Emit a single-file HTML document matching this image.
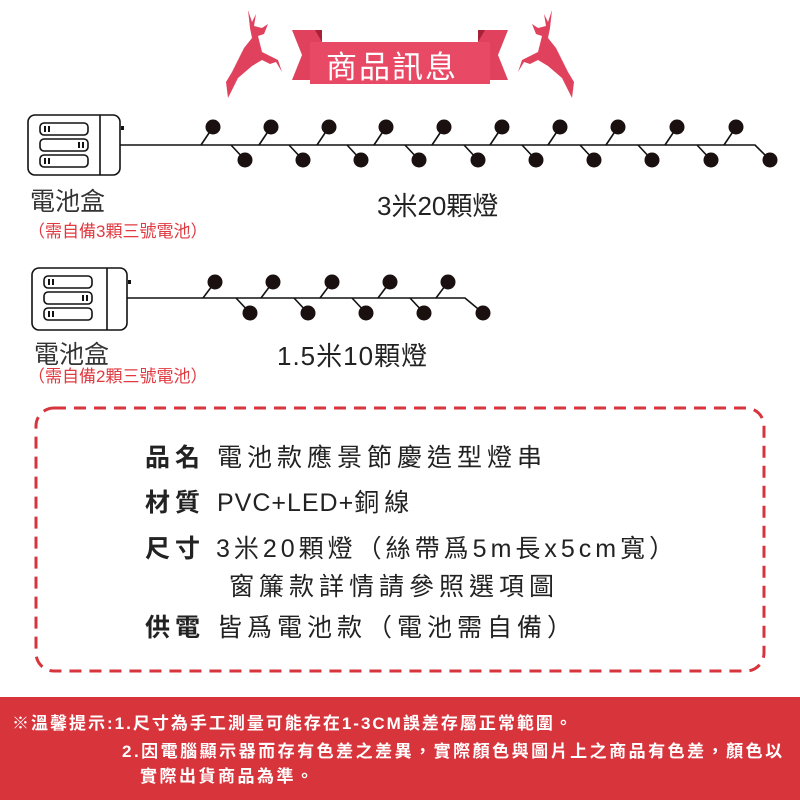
<!DOCTYPE html>
<html><head><meta charset="utf-8"><style>
body{margin:0;width:800px;height:800px;background:#fff;overflow:hidden;position:relative;font-family:"Liberation Sans","Noto Sans CJK TC",sans-serif}
.t{position:absolute;white-space:nowrap}
.l{letter-spacing:1px}
</style></head><body>
<svg width="800" height="800" style="position:absolute;left:0;top:0">
<polygon points="292,30 322,30 322,80 292,80 302,55" fill="#e0425e"/>
<polygon points="478,30 508,30 498,55 508,80 478,80" fill="#e0425e"/>
<polygon points="315,30 322,42 322,30" fill="#a82038"/>
<polygon points="485,30 478,42 478,30" fill="#a82038"/>
<rect x="310" y="42" width="180" height="42" fill="#e84a66"/>
<path d="M248,10 L252,22 L256,14 L254,26 L262,28 L268,24 L264,34 L258,36 L262,52 L278,60 L282,72 L276,62 L270,64 L262,60 L252,66 L238,78 L228,98 L226,82 L232,72 L236,64 L244,48 L252,38 L250,28 Z" fill="#e0425e"/>
<path d="M552,10 L548,22 L544,14 L546,26 L538,28 L532,24 L536,34 L542,36 L538,52 L522,60 L518,72 L524,62 L530,64 L538,60 L548,66 L562,78 L572,98 L574,82 L568,72 L564,64 L556,48 L548,38 L550,28 Z" fill="#e0425e"/>
<g stroke="#111" fill="none" stroke-width="1.6">
<rect x="28" y="115" width="92" height="60" rx="7"/>
<line x1="100" y1="115" x2="100" y2="175"/>
<rect x="40" y="123" width="48" height="12" rx="4"/>
<rect x="40" y="139" width="48" height="12" rx="4"/>
<rect x="40" y="155" width="48" height="12" rx="4"/>
<rect x="32" y="268" width="95" height="62" rx="7"/>
<line x1="107" y1="268" x2="107" y2="330"/>
<rect x="44" y="276" width="48" height="12" rx="4"/>
<rect x="44" y="292" width="48" height="12" rx="4"/>
<rect x="44" y="308" width="48" height="12" rx="4"/>
<path d="M120,145 L755,145 L770,160"/>
<path d="M127,298 L465,298 L483,313"/>
</g>
<g fill="#111">
<rect x="121" y="126" width="3" height="4"/><rect x="128" y="280" width="3" height="4"/>
<rect x="44" y="126" width="2" height="6"/><rect x="48" y="126" width="2" height="6"/>
<rect x="44" y="158" width="2" height="6"/><rect x="48" y="158" width="2" height="6"/>
<rect x="78" y="142" width="2" height="6"/><rect x="82" y="142" width="2" height="6"/>
<rect x="48" y="279" width="2" height="6"/><rect x="52" y="279" width="2" height="6"/>
<rect x="48" y="311" width="2" height="6"/><rect x="52" y="311" width="2" height="6"/>
<rect x="82" y="295" width="2" height="6"/><rect x="86" y="295" width="2" height="6"/>
</g>
<g id="b1"></g>
<rect x="36" y="408" width="728" height="263" rx="18" fill="none" stroke="#d6353d" stroke-width="3" stroke-dasharray="12,8"/>
<rect x="0" y="697" width="800" height="103" fill="#d8343c"/>
</svg>
<script>
var s='',g=document.getElementById('b1');
function B(x,y,up,wy){var dx=up?-12:-14;s+='<line x1="'+(x+dx)+'" y1="'+wy+'" x2="'+x+'" y2="'+y+'" stroke="#111" stroke-width="1.6"/><circle cx="'+x+'" cy="'+y+'" r="7.5" fill="#1a1010"/>';}
[213,271,329,386,444,502,560,618,677,736].forEach(function(x){B(x,127,1,145)});
[245,303,361,419,478,536,594,652,711].forEach(function(x){B(x,160,0,145)});
s+='<circle cx="770" cy="160" r="7.5" fill="#1a1010"/>';
[215,273,332,390,448].forEach(function(x){B(x,282,1,298)});
[250,308,366,424].forEach(function(x){B(x,313,0,298)});
s+='<circle cx="483" cy="313" r="7.5" fill="#1a1010"/>';
g.innerHTML=s;
</script>
<div class="t" style="left:326px;top:42px;font-size:31px;color:#fff;letter-spacing:2px">商品訊息</div>
<div class="t" style="left:30px;top:182px;font-size:25px;color:#333">電池盒</div>
<div class="t" style="left:28px;top:217px;font-size:17px;color:#e03a40">（需自備3顆三號電池）</div>
<div class="t" style="left:377px;top:186px;font-size:26px;color:#222">3米20顆燈</div>
<div class="t" style="left:34px;top:335px;font-size:25px;color:#333">電池盒</div>
<div class="t" style="left:28px;top:362px;font-size:17px;color:#e03a40">（需自備2顆三號電池）</div>
<div class="t" style="left:277px;top:336px;font-size:26px;color:#222;letter-spacing:1px">1.5米10顆燈</div>
<div style="position:absolute;left:145px;top:436px;font-size:25px;color:#222;line-height:45px;letter-spacing:5px;white-space:nowrap">
<div><b>品名</b> 電池款應景節慶造型燈串</div>
<div><b>材質</b> <span class="l">PVC+LED+</span>銅線</div>
<div style="line-height:38px;margin-top:4px;letter-spacing:4px"><b style="letter-spacing:5px">尺寸</b> 3米20顆燈（絲帶爲5m長x5cm寬）</div>
<div style="line-height:38px;padding-left:84px">窗簾款詳情請參照選項圖</div>
<div><b>供電</b> 皆爲電池款（電池需自備）</div>
</div>
<div class="t" style="left:12px;top:709px;font-size:17px;color:#fff;font-weight:bold;letter-spacing:2px">※溫馨提示:1.尺寸為手工測量可能存在1-3CM誤差存屬正常範圍。</div>
<div class="t" style="left:122px;top:737px;font-size:17px;color:#fff;font-weight:bold;letter-spacing:2.5px">2.因電腦顯示器而存有色差之差異，實際顏色與圖片上之商品有色差，顏色以</div>
<div class="t" style="left:140px;top:762px;font-size:17px;color:#fff;font-weight:bold;letter-spacing:2.5px">實際出貨商品為準。</div>
</body></html>
